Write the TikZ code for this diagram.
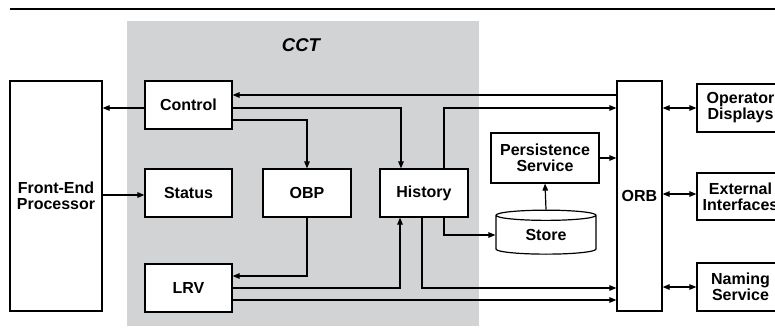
\documentclass[tikz,border=0pt]{standalone}
\usepackage{fontspec}
\setmainfont{Liberation Sans}
\usetikzlibrary{arrows.meta,shapes.geometric}
\definecolor{cctgray}{RGB}{209,211,212}
\newcommand{\lblfont}{\fontsize{16}{16}\selectfont\bfseries}

\begin{document}
\begin{tikzpicture}[x=1pt,y=-1pt,
  box/.style={draw, line width=1.2pt, fill=white, inner sep=0pt, align=center, font=\lblfont},
  arr/.style={line width=1.2pt, -{Triangle[length=7pt,width=5.5pt]}},
  dbl/.style={line width=1.2pt, {Triangle[length=7pt,width=5.5pt]}-{Triangle[length=7pt,width=5.5pt]}}]
\useasboundingbox (0,0) rectangle (775,335);
\clip (0,0) rectangle (775,335);
% rule and CCT area
\coordinate (ruleL) at (10,9);
\coordinate (ruleR) at (775,9);
\draw[line width=1.2pt] (ruleL) -- (ruleR);
\fill[cctgray] (127,21) rectangle (479,326);
\node[font=\fontsize{18.5}{18.5}\selectfont\bfseries\itshape] (cct) at (301,45){CCT};
% blocks
\node[box, minimum width=92, minimum height=230] (fep) at (56,196){Front-End\\Processor};
\node[box, minimum width=87, minimum height=48] (ctrl) at (188.5,105){Control};
\node[box, minimum width=87, minimum height=48] (status) at (188.5,193){Status};
\node[box, minimum width=87, minimum height=48] (lrv) at (188.5,288){LRV};
\node[box, minimum width=88, minimum height=48] (obp) at (307,193){OBP};
\node[box, minimum width=88, minimum height=48] (hist) at (424,193){History};
\node[box, minimum width=108, minimum height=50] (pers) at (545,158){Persistence\\Service};
\node[box, cylinder, shape border rotate=90, aspect=0.25, minimum width=100, minimum height=44] (store) at (546,235){Store};
\node[box, minimum width=45, minimum height=230] (orb) at (639.5,196){ORB};
\node[box, minimum width=87, minimum height=48] (opd) at (740.5,108){Operator\\Displays};
\node[box, minimum width=87, minimum height=47] (ext) at (740.5,196.5){External\\Interfaces};
\node[box, minimum width=87, minimum height=48] (nam) at (740.5,287){Naming\\Service};
% connectors
\draw[arr] (ctrl.west |- 0,108) -- (fep.east |- 0,108);
\draw[arr] (fep.east |- 0,195) -- (status.west |- 0,195);
\draw[arr] (orb.west |- 0,95) -- (ctrl.east |- 0,95);
\draw[arr] (ctrl.east |- 0,108) -| (hist.north -| 401,0);
\draw[arr] (ctrl.east |- 0,120) -| (obp.north);
\draw[arr] (hist.north -| 444,0) |- (orb.west |- 0,108);
\draw[arr] (pers.east) -- (pers.east -| orb.west);
\draw[arr] (store.north) -- (pers.south);
\draw[arr] (hist.south -| 444,0) |- (store.west);
\draw[arr] (obp.south) |- (lrv.east |- 0,276);
\draw[arr] (lrv.east |- 0,288) -| (hist.south -| 400,0);
\draw[arr] (lrv.east |- 0,300) -- (orb.west |- 0,300);
\draw[arr] (hist.south -| 422,0) |- (orb.west |- 0,288);
\draw[dbl] (orb.east |- 0,108) -- (opd.west |- 0,108);
\draw[dbl] (orb.east |- 0,194) -- (ext.west |- 0,194);
\draw[dbl] (orb.east |- nam.west) -- (nam.west);
\end{tikzpicture}
\end{document}
